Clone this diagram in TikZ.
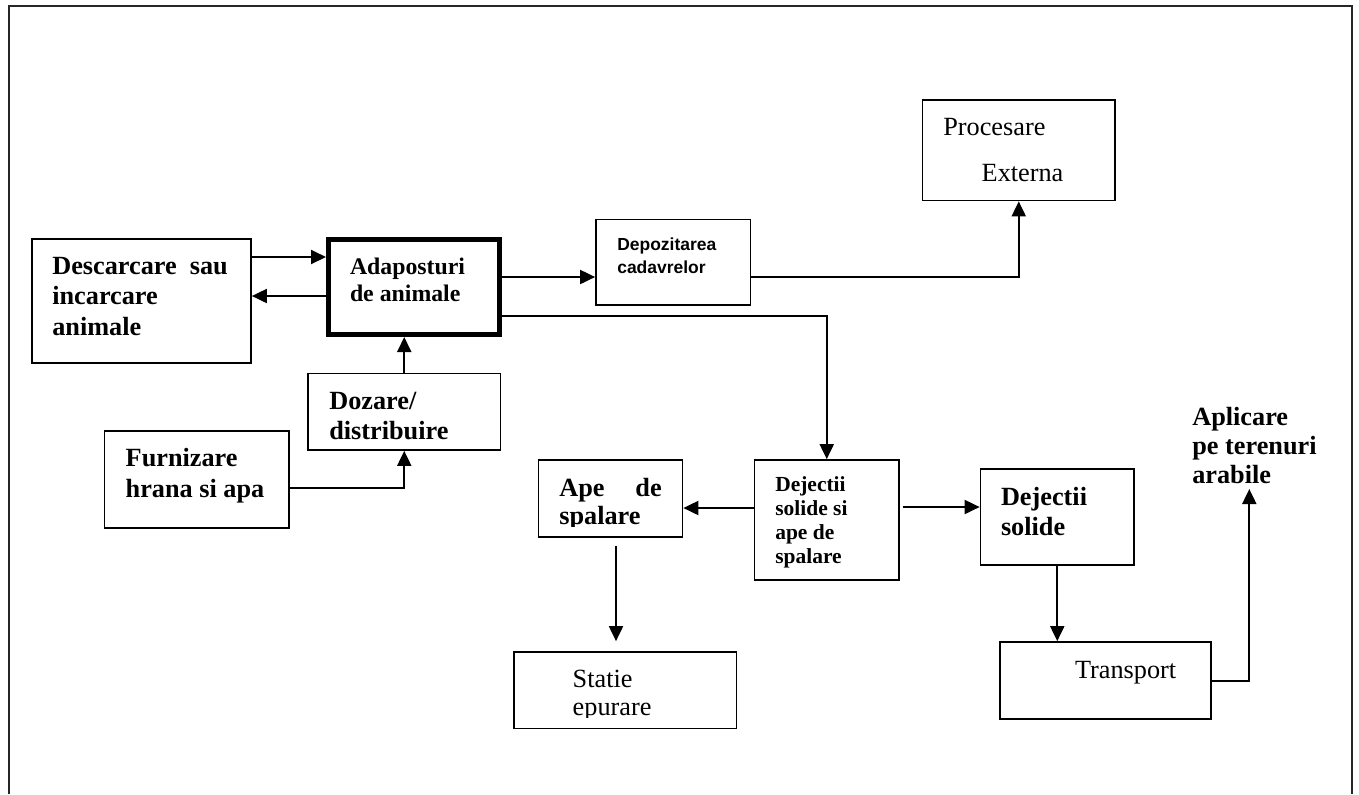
\documentclass[tikz,border=0pt]{standalone}
\usepackage{fontspec}
\setmainfont{Liberation Serif}
\newfontfamily\arialfont{Liberation Sans}
\usetikzlibrary{arrows.meta,fit}
\newcommand\txtlines[1]{\begin{tabular}[t]{@{}l@{}}#1\end{tabular}}
\begin{document}
\begin{tikzpicture}[x=0.75pt,y=-0.75pt,
  box/.style={draw, line width=1.3pt, inner sep=0pt},
  thickbox/.style={draw, line width=3.75pt, inner sep=0pt},
  conn/.style={line width=1.45pt},
  arr/.style={conn, -{Triangle[length=11.25pt,width=10.5pt]}},
  lbl/.style={anchor=base west, inner sep=0pt, outer sep=0pt},
  bigb/.style={lbl, font=\fontsize{19.7}{22.5}\selectfont\bfseries},
  bigr/.style={lbl, font=\fontsize{19.7}{21.2}\selectfont},
  midb/.style={lbl, font=\fontsize{17.85}{20.8}\selectfont\bfseries},
  smallb/.style={lbl, font=\fontsize{16.1}{18}\selectfont\bfseries},
  sansb/.style={lbl, font=\fontsize{13.1}{17.5}\selectfont\arialfont\bfseries},
  frame/.style={line width=1.5pt, black!85}
]
\useasboundingbox (0,0) rectangle (1359,794);
% outer frame
\draw[frame] (8.5,794) -- (8.5,5.5) -- (1351.5,5.5) -- (1351.5,794);

% boxes
\node[box, fit={(32,239) (251,363)}] (desc) {};
\node[thickbox, fit={(328.5,239.5) (499.5,334.5)}] (ads) {};
\node[box, fit={(308,373.5) (500.5,450)}] (doz) {};
\node[box, fit={(104.5,431) (289,528)}] (furn) {};
\node[box, fit={(596,219.5) (750.5,305)}] (depo) {};
\node[box, fit={(922.5,100) (1115,200.5)}] (proc) {};
\node[box, fit={(538.5,460) (682.5,537)}] (ape) {};
\node[box, fit={(754.5,460) (899,580)}] (dej) {};
\node[box, fit={(980.5,469) (1134,565)}] (dejs) {};
\node[box, fit={(1000,642) (1211,719)}] (trans) {};
\node[box, fit={(514,652) (736.5,728.5)}] (stat) {};

% texts
\node[bigb] (desc-t) at (52.3,274) {\fontsize{19.7}{23}\selectfont\txtlines{Descarcare\ \ sau\\incarcare\\animale}};
\node[midb] (ads-t) at (350,274) {\txtlines{Adaposturi\\de animale}};
\node[bigb] (doz-t) at (329.3,409) {\txtlines{Dozare/\\distribuire}};
\node[bigb] (furn-t) at (125.7,466) {\fontsize{19.7}{23.5}\selectfont\txtlines{Furnizare\\hrana si apa}};
\node[sansb] (depo-t) at (617.3,250) {\txtlines{Depozitarea\\cadavrelor}};
\node[lbl, font=\fontsize{19.7}{35}\selectfont] (proc-t) at (943.3,135) {\txtlines{Procesare\\\hspace*{28.8pt}Externa}};
\begin{scope}
  \clip (538,458) rectangle (683,526);
  \node[bigb] (ape-t) at (559.3,496.7) {\fontsize{19.7}{21.2}\selectfont\txtlines{\hbox to 76.8pt{Ape\hfill de}\\spalare}};
\end{scope}
\node[smallb] (dej-t) at (775.3,491) {\txtlines{Dejectii\\solide si\\ape de\\spalare}};
\begin{scope}
  \clip (514,650) rectangle (737,717.5);
  \node[bigr] (stat-t) at (572.7,687.7) {\txtlines{Statie\\epurare}};
\end{scope}
\node[bigb] (dejs-t) at (1001,505.7) {\fontsize{19.7}{22}\selectfont\txtlines{Dejectii\\solide}};
\node[bigr] (trans-t) at (1075,678.3) {Transport};
\node[bigb] (apl) at (1192.3,425) {\fontsize{19.7}{22.1}\selectfont\txtlines{Aplicare\\pe terenuri\\arabile}};
\coordinate (aplin) at (1249.3,489);

% connectors
\draw[arr] (desc.east |- 0,257) -- (ads.west |- 0,257);
\draw[arr] (ads.west |- 0,296) -- (desc.east |- 0,296);
\draw[arr] (doz.north) -- (doz.north |- ads.south);
\draw[arr] (furn.east |- 0,488) -| (doz.south);
\draw[arr] (ads.east |- 0,277) -- (depo.west |- 0,277);
\draw[arr] (ads.east |- 0,316) -| (dej.north);
\draw[arr] (depo.east |- 0,277) -| (proc.south);
\draw[arr] (dej.west |- 0,508) -- (ape.east |- 0,508);
\draw[arr, shorten <=2pt] (dej.east |- 0,507) -- (dejs.west |- 0,507);
\draw[arr, shorten <=6pt, shorten >=7.5pt] (ape.south -| 616,0) -- (stat.north -| 616,0);
\draw[arr] (dejs.south) -- (dejs.south |- trans.north);
\draw[arr] (trans.east |- 0,681) -| (aplin);
\end{tikzpicture}
\end{document}
